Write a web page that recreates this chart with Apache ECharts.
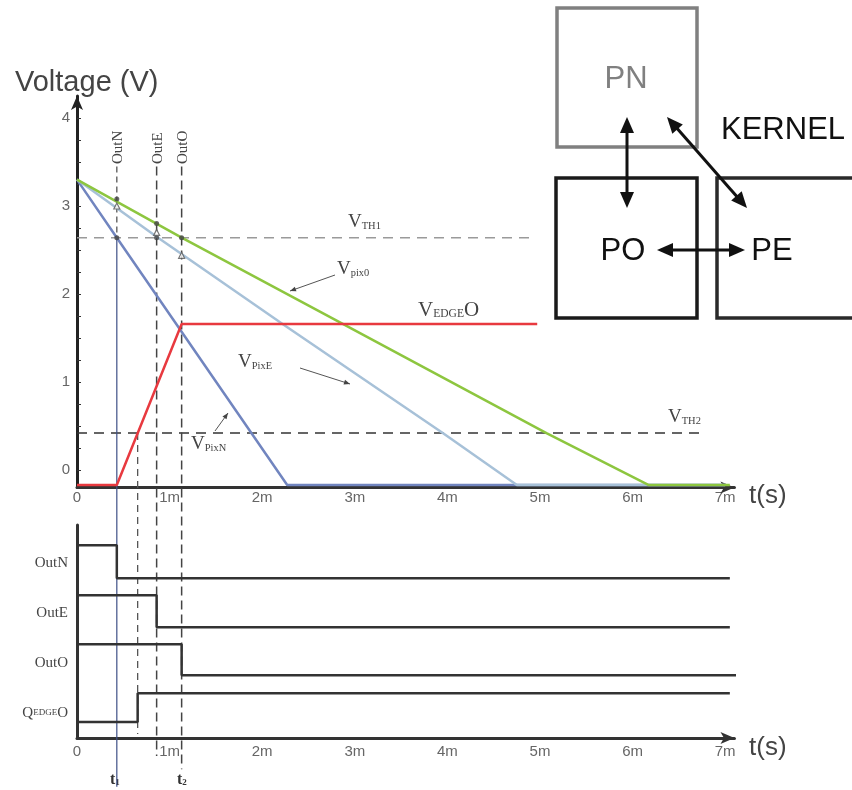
<!DOCTYPE html>
<html><head><meta charset="utf-8">
<script src="https://cdn.jsdelivr.net/npm/echarts@6/dist/echarts.min.js"></script>
<style>html,body{margin:0;padding:0;background:#fff}#c{width:852px;height:790px}</style>
</head><body><div id="c"></div>
<script>
// ---- data (time in ms, voltage in V) ----
const xTicks = [0,1,2,3,4,5,6,7];
const yTicks = [0,1,2,3,4];
const vFloor = -0.17;
const vTH1 = 2.64, vTH2 = 0.42, vEdge = 1.66;
const tOutN = 0.43, tQ = 0.655, tOutE = 0.86, tOutO = 1.13;
const vPixN = [[0,3.3],[0.43,2.64],[2.27,-0.17],[7.0,-0.17]];
const vPixE = [[0,3.3],[0.86,2.65],[2.22,1.66],[3.95,0.42],[4.75,-0.17],[7.0,-0.17]];
const vPix0 = [[0,3.3],[1.13,2.64],[2.87,1.66],[5.07,0.42],[6.17,-0.17],[7.05,-0.17]];
const vEdgeO = [[0,-0.17],[0.43,-0.17],[1.13,1.66],[4.97,1.66]];
const th1Line = [[0,2.64],[4.9,2.64]];
const th2Line = [[0,0.42],[6.75,0.42]];
const markCircles = [[0.43,3.08],[0.86,2.80],[1.13,2.64],[0.43,2.64],[0.86,2.64]];
const markTriangles = [[0.43,3.0],[0.86,2.70],[1.13,2.44]];
// digital signals (lower panel, level units)
const outN = [[0,9.05],[0.43,9.05],[0.43,7.5],[7.05,7.5]];
const outE = [[0,6.7],[0.86,6.7],[0.86,5.2],[7.05,5.2]];
const outO = [[0,4.4],[1.13,4.4],[1.13,2.95],[7.12,2.95]];
const qEdge = [[0,0.75],[0.655,0.75],[0.655,2.1],[7.05,2.1]];

const chart = echarts.init(document.getElementById('c'));
const sans = 'Liberation Sans';
const serif = 'Liberation Serif';
const xmax = 7.1;
const gridL = 77, pxPerMs = 92.6;
const gridW = xmax*pxPerMs;
const vTop = 3.45; // top of the vertical marker lines
const yMin = -0.2, yMax = 4.25, pxPerV = 88;

function xAxisCfg(idx, labMargin){
  return {type:'value', gridIndex:idx, min:0, max:xmax,
    axisLine:{show:true, onZero:false, lineStyle:{color:'#333', width:3}, symbol:['none','arrow'], symbolSize:[9,14]},
    axisTick:{show:false}, splitLine:{show:false},
    axisLabel:{customValues:xTicks, formatter:v=>v===0?'0':v+'m', color:'#666', fontSize:15, fontFamily:sans, margin:labMargin}
  };
}
function line(name, data, color, width, opt){
  return Object.assign({type:'line', name, data, showSymbol:false, symbol:'none', clip:false, animation:false,
    lineStyle:{color, width}, z:3}, opt||{});
}
function vline(t, y0, y1, color, width, type){
  return line('v', [[t,y0],[t,y1]], color, width, {lineStyle:{color, width, type}});
}

const series = [
  line('VTH1', th1Line, '#9a9a9a', 1.5, {lineStyle:{color:'#9a9a9a', width:1.5, type:[10,7]}}),
  line('VTH2', th2Line, '#333', 1.5, {lineStyle:{color:'#333', width:1.5, type:[10,7]}}),
  vline(tOutN, vTop, vTH1, '#555', 1.3, [6,4]),
  vline(tOutN, vTH1, -3.6, '#3e4f86', 1.2, 'solid'),
  vline(tQ, vTH2, -3.0, '#555', 1.3, [7,5]),
  vline(tOutE, vTop, -3.25, '#444', 1.5, [9,5]),
  vline(tOutO, vTop, -3.4, '#444', 1.5, [9,5]),
  line('VPixN', vPixN, '#7185bf', 2.5),
  line('VPixE', vPixE, '#a7c1d8', 2.5),
  line('Vpix0', vPix0, '#8dc63f', 2.5),
  line('VEDGEO', vEdgeO, '#e8393f', 2.5),
  {type:'scatter', data:markCircles, symbol:'circle', symbolSize:5, itemStyle:{color:'#444'}, z:5, animation:false},
  {type:'scatter', data:markTriangles, symbol:'triangle', symbolSize:6, itemStyle:{color:'#fff', borderColor:'#555', borderWidth:1.2}, z:5, animation:false},
  line('OutN', outN, '#333', 2.5, {xAxisIndex:1, yAxisIndex:1}),
  line('OutE', outE, '#333', 2.5, {xAxisIndex:1, yAxisIndex:1}),
  line('OutO', outO, '#333', 2.5, {xAxisIndex:1, yAxisIndex:1}),
  line('QEDGEO', qEdge, '#333', 2.5, {xAxisIndex:1, yAxisIndex:1})
];

function sub(big, small, after, size, color){
  const s = size||20, c = color||'#444';
  return {type:'text', style:{text:'{a|'+big+'}{b|'+small+'}'+(after?'{a|'+after+'}':''), fill:c,
    rich:{a:{fontSize:s, fontFamily:serif, fill:c}, b:{fontSize:s*0.55, fontFamily:serif, fill:c, padding:[s*0.35,0,0,0]}}}};
}
function place(o, x, y){ o.x=x; o.y=y; return o; }
function arrowHead(x,y,ang,len,w,color){
  const bx = x - len*Math.cos(ang), by = y - len*Math.sin(ang);
  const px = -Math.sin(ang)*w, py = Math.cos(ang)*w;
  return {type:'polygon', shape:{points:[[x,y],[bx+px,by+py],[bx-px,by-py]]}, style:{fill:color}, z:10};
}
function dblArrow(x1,y1,x2,y2,color,lw,len,w){
  const a = Math.atan2(y2-y1,x2-x1);
  return [
    {type:'line', shape:{x1:x1+Math.cos(a)*len*0.8,y1:y1+Math.sin(a)*len*0.8,x2:x2-Math.cos(a)*len*0.8,y2:y2-Math.sin(a)*len*0.8}, style:{stroke:color, lineWidth:lw}, z:10},
    arrowHead(x2,y2,a,len,w,color), arrowHead(x1,y1,a+Math.PI,len,w,color)
  ];
}
function thinArrow(x1,y1,x2,y2){
  const a = Math.atan2(y2-y1,x2-x1);
  return [{type:'line', shape:{x1,y1,x2,y2}, style:{stroke:'#555', lineWidth:1}, z:10}, arrowHead(x2,y2,a,6,2.5,'#444')];
}
function vText(txt, x){
  return {type:'text', x:x, y:164, rotation:Math.PI/2, style:{text:txt, fontSize:15, fontFamily:serif, fill:'#444', align:'left', verticalAlign:'middle'}};
}

const graphics = [
  {type:'text', x:15, y:68, style:{text:'Voltage (V)', fontSize:29, fontFamily:sans, fill:'#444'}},
  {type:'text', x:749, y:496, style:{text:'t(s)', fontSize:26, fontFamily:sans, fill:'#444', verticalAlign:'middle'}},
  {type:'text', x:749, y:748, style:{text:'t(s)', fontSize:26, fontFamily:sans, fill:'#444', verticalAlign:'middle'}},
  vText('OutN', 118), vText('OutE', 158), vText('OutO', 183),
  place(sub('V','TH1','',19), 348, 213),
  place(sub('V','TH2','',19), 668, 408),
  place(sub('V','pix0','',19), 337, 260),
  place(sub('V','EDGE','O',21), 418, 300),
  place(sub('V','PixE','',19), 238, 353),
  place(sub('V','PixN','',19), 191, 435),
  ...thinArrow(335,275,290,291),
  ...thinArrow(300,368,350,384),
  ...thinArrow(215,431,228,413),
  // lower panel labels
  {type:'text', x:68, y:563, style:{text:'OutN', fontSize:15, fontFamily:serif, fill:'#444', align:'right', verticalAlign:'middle'}},
  {type:'text', x:68, y:613, style:{text:'OutE', fontSize:15, fontFamily:serif, fill:'#444', align:'right', verticalAlign:'middle'}},
  {type:'text', x:68, y:663, style:{text:'OutO', fontSize:15, fontFamily:serif, fill:'#444', align:'right', verticalAlign:'middle'}},
  {type:'text', x:68, y:713, style:{text:'{a|Q}{b|EDGE}{a|O}', align:'right', verticalAlign:'middle',
     rich:{a:{fontSize:15, fontFamily:serif, fill:'#444'}, b:{fontSize:9, fontFamily:serif, fill:'#444'}}}},
  {type:'text', x:110, y:772, style:{text:'{a|t}{b|1}', rich:{a:{fontSize:16, fontWeight:'bold', fontFamily:serif, fill:'#333'}, b:{fontSize:9, fontWeight:'bold', fontFamily:serif, fill:'#333', padding:[6,0,0,0]}}}},
  {type:'text', x:177, y:772, style:{text:'{a|t}{b|2}', rich:{a:{fontSize:16, fontWeight:'bold', fontFamily:serif, fill:'#333'}, b:{fontSize:9, fontWeight:'bold', fontFamily:serif, fill:'#333', padding:[6,0,0,0]}}}},
  // kernel diagram
  {type:'rect', shape:{x:557,y:8,width:140,height:139}, style:{fill:'none', stroke:'#808080', lineWidth:3.5}, z:8},
  {type:'rect', shape:{x:556,y:178,width:141,height:140}, style:{fill:'none', stroke:'#1a1a1a', lineWidth:3.5}, z:8},
  {type:'rect', shape:{x:717,y:178,width:150,height:140}, style:{fill:'none', stroke:'#2a2a2a', lineWidth:3.5}, z:8},
  {type:'text', x:626, y:79, style:{text:'PN', fontSize:31, fontFamily:sans, fill:'#808080', align:'center', verticalAlign:'middle'}, z:9},
  {type:'text', x:623, y:251, style:{text:'PO', fontSize:31, fontFamily:sans, fill:'#111', align:'center', verticalAlign:'middle'}, z:9},
  {type:'text', x:772, y:251, style:{text:'PE', fontSize:31, fontFamily:sans, fill:'#111', align:'center', verticalAlign:'middle'}, z:9},
  {type:'text', x:721, y:130, style:{text:'KERNEL', fontSize:31, fontFamily:sans, fill:'#111', verticalAlign:'middle'}, z:9},
  ...dblArrow(627,117,627,208,'#111',3,16,7),
  ...dblArrow(667,117,747,208,'#111',3,16,7),
  ...dblArrow(657,250,745,250,'#111',3,16,7)
];

const topH = (yMax - yMin)*pxPerV;
chart.setOption({
  backgroundColor:'#fff',
  animation:false,
  grid:[
    {left:gridL, width:gridW, top:487.6 - topH, height:topH},
    {left:gridL, width:gridW, top:525, height:213}
  ],
  xAxis:[xAxisCfg(0, 3), xAxisCfg(1, 6)],
  yAxis:[
    {type:'value', gridIndex:0, min:yMin, max:yMax,
      axisLine:{show:true, onZero:false, lineStyle:{color:'#222', width:3}, symbol:['none','arrow'], symbolSize:[9,14]},
      axisTick:{show:true, inside:true, length:4, customValues:[0,0.25,0.5,0.75,1,1.25,1.5,1.75,2,2.25,2.5,2.75,3,3.25,3.5,3.75,4], lineStyle:{color:'#333'}},
      splitLine:{show:false},
      axisLabel:{customValues:yTicks, color:'#666', fontSize:15, fontFamily:sans, margin:7}},
    {type:'value', gridIndex:1, min:0, max:10,
      axisLine:{show:true, onZero:false, lineStyle:{color:'#333', width:3}},
      axisTick:{show:false}, splitLine:{show:false}, axisLabel:{show:false}}
  ],
  series,
  graphic:graphics
});
</script></body></html>
